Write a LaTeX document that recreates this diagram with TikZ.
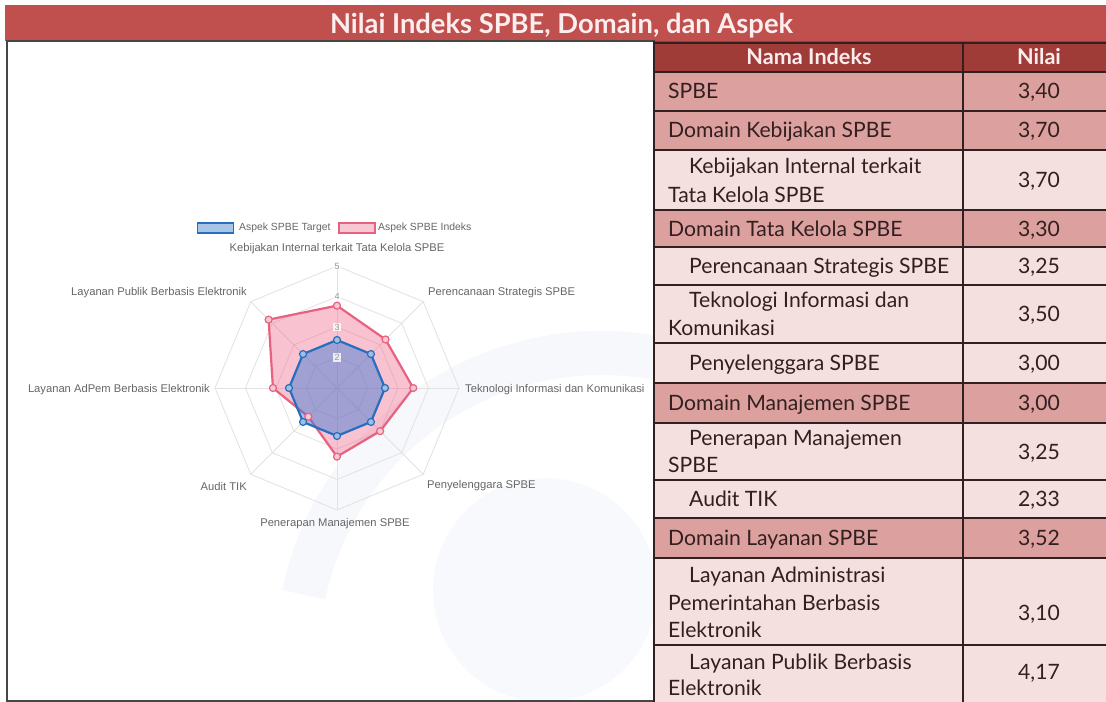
\documentclass[tikz,border=0pt]{standalone}
\usepackage{fontspec}
\setmainfont{Lato}
\newfontfamily\chartfont{Liberation Sans}
\usetikzlibrary{calc}
\definecolor{titlered}{RGB}{192,80,77}
\definecolor{titletext}{RGB}{252,238,238}
\definecolor{headred}{RGB}{160,60,56}
\definecolor{domrow}{RGB}{220,160,158}
\definecolor{subrow}{RGB}{243,224,223}
\definecolor{tabline}{RGB}{50,32,32}
\definecolor{tabtext}{RGB}{50,32,32}
\definecolor{gridgray}{RGB}{226,226,226}
\definecolor{labgray}{RGB}{102,102,102}
\definecolor{tickgray}{RGB}{150,150,150}
\definecolor{pinkline}{RGB}{232,98,128}
\definecolor{pinkfill}{RGB}{240,95,135}
\definecolor{blueline}{RGB}{40,110,190}
\definecolor{bluefill}{RGB}{54,120,215}
\definecolor{panelline}{RGB}{70,70,70}
\definecolor{wmblue}{RGB}{246,248,251}
\definecolor{wmblue2}{RGB}{247,249,252}
\newlength\calw
\newcommand\tabfs{20}
\newcommand\titlefs{24}
\newcommand\headfs{20}
\newcommand\tabfont{\fontsize{\tabfs bp}{24bp}\selectfont}
\newcommand\chartlab{\chartfont\fontsize{11.2bp}{13bp}\selectfont}
\newcommand\legfont{\chartfont\fontsize{10.4bp}{12bp}\selectfont}
\tikzset{
  cell/.style={anchor=base west, font=\tabfont, text=tabtext, inner sep=0pt},
  val/.style={anchor=base, font=\tabfont, text=tabtext, inner sep=0pt},
  headtxt/.style={anchor=base, font=\fontsize{\headfs bp}{24bp}\selectfont\bfseries, text=titletext, inner sep=0pt},
  rule/.style={draw=tabline, line width=1.3bp},
  axlab/.style={font=\chartlab, text=labgray, inner sep=0pt},
  gridline/.style={draw=gridgray, line width=0.8bp},
  ticklab/.style={font=\chartfont\fontsize{9bp}{10bp}\selectfont, text=tickgray, fill=white, fill opacity=0.8, text opacity=1, inner sep=1.2bp},
  pinkpt/.style={circle, draw=pinkline, fill=pinkline!35, line width=1.2bp, minimum size=7bp, inner sep=0pt},
  bluept/.style={circle, draw=blueline, fill=blueline!45, line width=1.2bp, minimum size=7bp, inner sep=0pt},
}
\begin{document}
% calibrate font sizes to the reference text widths
\settowidth\calw{\fontsize{20bp}{24bp}\selectfont Perencanaan Strategis SPBE}%
\pgfmathsetmacro\tabfs{20*260.98/\the\calw}%
\settowidth\calw{\fontsize{20bp}{24bp}\selectfont\bfseries Nilai Indeks SPBE, Domain, dan Aspek}%
\pgfmathsetmacro\titlefs{20*464.7/\the\calw}%
\settowidth\calw{\fontsize{20bp}{24bp}\selectfont\bfseries Nama Indeks}%
\pgfmathsetmacro\headfs{20*125.5/\the\calw}%
\begin{tikzpicture}[x=1bp,y=-1bp]
\useasboundingbox (0,0) rectangle (1106,702);
\fill[white] (0,0) rectangle (1106,702);
% faint watermark
\begin{scope}
  \clip (7,41) rectangle (654,701);
  \fill[wmblue2] (545,590) circle (112);
  \draw[wmblue, line width=44bp] (602,658) ++(192:305) arc (192:330:305);
\end{scope}
% title band
\fill[titlered] (5,5) rectangle (1106,41);
\node[anchor=base, font=\fontsize{\titlefs bp}{28bp}\selectfont\bfseries, text=titletext, inner sep=0pt] (title) at (561.5,33.5) {Nilai Indeks SPBE, Domain, dan Aspek};
% left panel
\draw[panelline, line width=1.5bp] (7,41) rectangle (654,701);

% ---------- radar chart ----------
\coordinate (C) at (337,388);
\begin{scope}[shift={(C)}]
  \foreach \r in {30.5,61,91.5,122}
    \draw[gridline] (-90:\r) -- (-45:\r) -- (0:\r) -- (45:\r) -- (90:\r) -- (135:\r) -- (180:\r) -- (225:\r) -- cycle;
  \foreach \a in {-90,-45,0,45,90,135,180,225}
    \draw[gridline] (0,0) -- (\a:122);
  % index polygon (pink)
  \fill[pinkfill, opacity=0.38] (-90:82.35) -- (-45:68.63) -- (0:76.25) -- (45:61) -- (90:68.63) -- (135:40.57) -- (180:64.05) -- (225:96.69) -- cycle;
  \draw[pinkline, line width=2.2bp, line join=round] (-90:82.35) -- (-45:68.63) -- (0:76.25) -- (45:61) -- (90:68.63) -- (135:40.57) -- (180:64.05) -- (225:96.69) -- cycle;
  % target polygon (blue)
  \fill[bluefill, opacity=0.45] (-90:48) -- (-45:48) -- (0:48) -- (45:48) -- (90:48) -- (135:48) -- (180:48) -- (225:48) -- cycle;
  \draw[blueline, line width=2.2bp, line join=round] (-90:48) -- (-45:48) -- (0:48) -- (45:48) -- (90:48) -- (135:48) -- (180:48) -- (225:48) -- cycle;
  % points
  \node[pinkpt] (p1) at (-90:82.35) {};
  \node[pinkpt] (p2) at (-45:68.63) {};
  \node[pinkpt] (p3) at (0:76.25) {};
  \node[pinkpt] (p4) at (45:61) {};
  \node[pinkpt] (p5) at (90:68.63) {};
  \node[pinkpt] (p6) at (135:40.57) {};
  \node[pinkpt] (p7) at (180:64.05) {};
  \node[pinkpt] (p8) at (225:96.69) {};
  \foreach \a [count=\i] in {-90,-45,0,45,90,135,180,225}
    \node[bluept] (b\i) at (\a:48) {};
  % tick labels
  \node[ticklab] (t2) at (0,-30.5) {2};
  \node[ticklab] (t3) at (0,-61) {3};
  \node[ticklab] (t4) at (0,-91.5) {4};
  \node[ticklab] (t5) at (0,-122) {5};
\end{scope}
% axis labels
\node[axlab, anchor=center] (lk) at (337,249) {Kebijakan Internal terkait Tata Kelola SPBE};
\node[axlab, anchor=west] (lp) at (428,292.7) {Perencanaan Strategis SPBE};
\node[axlab, anchor=west] (lt) at (465,389.3) {Teknologi Informasi dan Komunikasi};
\node[axlab, anchor=west] (ly) at (427,486) {Penyelenggara SPBE};
\node[axlab, anchor=center] (lm) at (335,523.3) {Penerapan Manajemen SPBE};
\node[axlab, anchor=east] (la) at (247,486) {Audit TIK};
\node[axlab, anchor=east] (lad) at (210,389.3) {Layanan AdPem Berbasis Elektronik};
\node[axlab, anchor=east] (lpub) at (247,292.7) {Layanan Publik Berbasis Elektronik};
% legend
\node[draw=blueline, fill=blueline!40, line width=1.6bp, minimum width=36bp, minimum height=10bp, inner sep=0pt] (legb) at (215.5,227.7) {};
\node[axlab, font=\legfont, anchor=west] (legbt) at (239,227.7) {Aspek SPBE Target};
\node[draw=pinkline, fill=pinkline!35, line width=1.6bp, minimum width=36bp, minimum height=10bp, inner sep=0pt] (legp) at (357,227.7) {};
\node[axlab, font=\legfont, anchor=west] (legpt) at (378,227.7) {Aspek SPBE Indeks};

% ---------- table ----------
\fill[headred] (654,41) rectangle (1106,72);
\fill[domrow] (654,72) rectangle (1106,150);
\fill[subrow] (654,150) rectangle (1106,210);
\fill[domrow] (654,210) rectangle (1106,247);
\fill[subrow] (654,247) rectangle (1106,383);
\fill[domrow] (654,383) rectangle (1106,423);
\fill[subrow] (654,423) rectangle (1106,518);
\fill[domrow] (654,518) rectangle (1106,558);
\fill[subrow] (654,558) rectangle (1106,702);
\foreach \y in {43,72,111,150,210,247,285,343,383,423,480,518,558,645}
  \draw[rule] (654,\y) -- (1106,\y);
\draw[rule] (654,41) -- (654,702);
\draw[rule] (963,43) -- (963,702);
% header
\node[headtxt] (hn) at (809,64.5) {Nama Indeks};
\node[headtxt] (hv) at (1039,64.5) {Nilai};
% rows
\node[cell] (r1) at (668,99) {SPBE};
\node[val] (v1) at (1039,99) {3,40};
\node[cell] (r2) at (668,138) {Domain Kebijakan SPBE};
\node[val] (v2) at (1039,138) {3,70};
\node[cell] (r3a) at (689,174) {Kebijakan Internal terkait};
\node[cell] (r3b) at (668,202.5) {Tata Kelola SPBE};
\node[val] (v3) at (1039,188) {3,70};
\node[cell] (r4) at (668,236) {Domain Tata Kelola SPBE};
\node[val] (v4) at (1039,236) {3,30};
\node[cell] (r5) at (689,273.5) {Perencanaan Strategis SPBE};
\node[val] (v5) at (1039,273.5) {3,25};
\node[cell] (r6a) at (689,307.5) {Teknologi Informasi dan};
\node[cell] (r6b) at (668,335.5) {Komunikasi};
\node[val] (v6) at (1039,321.5) {3,50};
\node[cell] (r7) at (689,370.5) {Penyelenggara SPBE};
\node[val] (v7) at (1039,370.5) {3,00};
\node[cell] (r8) at (668,410.5) {Domain Manajemen SPBE};
\node[val] (v8) at (1039,410.5) {3,00};
\node[cell] (r9a) at (689,445) {Penerapan Manajemen};
\node[cell] (r9b) at (668,472.5) {SPBE};
\node[val] (v9) at (1039,459) {3,25};
\node[cell] (r10) at (689,506.5) {Audit TIK};
\node[val] (v10) at (1039,506.5) {2,33};
\node[cell] (r11) at (668,545.5) {Domain Layanan SPBE};
\node[val] (v11) at (1039,545.5) {3,52};
\node[cell] (r12a) at (689,582.5) {Layanan Administrasi};
\node[cell] (r12b) at (668,610.5) {Pemerintahan Berbasis};
\node[cell] (r12c) at (668,637.5) {Elektronik};
\node[val] (v12) at (1039,620.5) {3,10};
\node[cell] (r13a) at (689,669.5) {Layanan Publik Berbasis};
\node[cell] (r13b) at (668,695.5) {Elektronik};
\node[val] (v13) at (1039,679.5) {4,17};
\end{tikzpicture}
\end{document}
